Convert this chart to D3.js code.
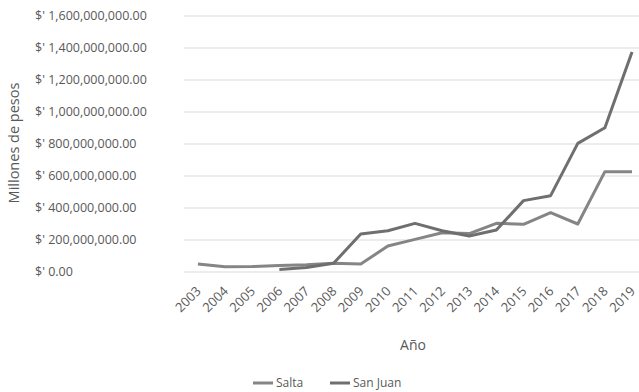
<!DOCTYPE html>
<html>
<head>
<meta charset="utf-8">
<script src="https://cdn.jsdelivr.net/npm/d3@7"></script>
<style>
  html, body { margin: 0; padding: 0; background: #fff; }
  svg { display: block; }
  text { font-family: "Open Sans", "Noto Sans", sans-serif; fill: #595959; }
</style>
</head>
<body>
<svg id="chart" width="639" height="392"></svg>
<script>
const years = ["2003","2004","2005","2006","2007","2008","2009","2010","2011","2012","2013","2014","2015","2016","2017","2018","2019"];
const salta = [50e6, 33e6, 34e6, 40e6, 45e6, 55e6, 50e6, 162e6, 204e6, 245e6, 240e6, 304e6, 298e6, 371e6, 300e6, 627e6, 627e6];
const sanJuan = [null, null, null, 15e6, 28e6, 55e6, 237e6, 258e6, 304e6, 258e6, 225e6, 262e6, 446e6, 477e6, 804e6, 902e6, 1375e6];
const yTicks = [0, 200e6, 400e6, 600e6, 800e6, 1000e6, 1200e6, 1400e6, 1600e6];
const seriesNames = ["Salta", "San Juan"];
const seriesColors = ["#858585", "#6f6f6f"];

const svg = d3.select("#chart");
const x = d3.scaleBand().domain(years).range([184.4, 645.6]);
const xc = d => x(d) + x.bandwidth() / 2;
const y = d3.scaleLinear().domain([0, 1.6e9]).range([272, 16]);

const fmt = v => "$' " + (v === 0 ? "0.00" : d3.format(",.2f")(v));

// gridlines
svg.append("g").selectAll("line").data(yTicks).join("line")
  .attr("x1", 184).attr("x2", 646)
  .attr("y1", d => y(d)).attr("y2", d => y(d))
  .attr("stroke", "#d9d9d9").attr("stroke-width", 1);

// y tick labels (left-aligned)
svg.append("g").selectAll("text").data(yTicks).join("text")
  .attr("x", 35).attr("y", d => y(d)).attr("dy", "0.35em")
  .attr("font-size", "12.5px")
  .text(fmt);

// y axis title
svg.append("text")
  .attr("transform", "translate(19,143) rotate(-90)")
  .attr("text-anchor", "middle").attr("font-size", "14.5px")
  .text("Millones de pesos");

// x tick labels rotated
svg.append("g").selectAll("text").data(years).join("text")
  .attr("transform", d => `translate(${xc(d) - 3},${285}) rotate(-45)`)
  .attr("text-anchor", "end").attr("dy", "0.75em")
  .attr("font-size", "13px")
  .text(d => d);

// x axis title
svg.append("text").attr("x", 413).attr("y", 350)
  .attr("text-anchor", "middle").attr("font-size", "14px").text("Año");

// lines
const line = d3.line().defined(d => d.v !== null)
  .x(d => xc(d.year)).y(d => y(d.v));
[salta, sanJuan].forEach((vals, i) => {
  svg.append("path")
    .datum(years.map((yr, j) => ({ year: yr, v: vals[j] })))
    .attr("fill", "none").attr("stroke", seriesColors[i])
    .attr("stroke-width", 3).attr("stroke-linejoin", "round")
    .attr("d", line);
});

// legend
const legendPos = [253, 330];
seriesNames.forEach((n, i) => {
  const g = svg.append("g").attr("transform", `translate(${legendPos[i]},383)`);
  g.append("line").attr("x1", 0).attr("x2", 20).attr("y1", 0).attr("y2", 0)
    .attr("stroke", seriesColors[i]).attr("stroke-width", 3);
  g.append("text").attr("x", 23).attr("y", 0).attr("dy", "0.35em")
    .attr("font-size", "12px").text(n);
});
</script>
</body>
</html>
